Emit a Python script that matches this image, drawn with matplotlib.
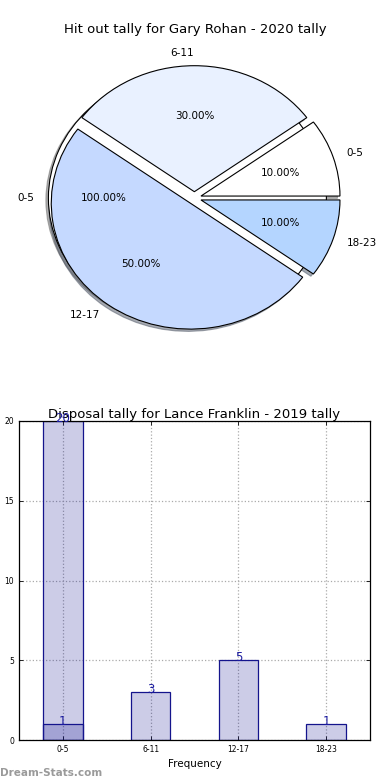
import matplotlib
matplotlib.use("Agg")
import matplotlib.pyplot as plt

# Pie data
pie_title = "Hit out tally for Gary Rohan - 2020 tally"
pie_back_labels = ["0-5"]
pie_back_values = [1]
pie_labels = ["0-5", "6-11", "12-17", "18-23"]
pie_values = [1, 3, 5, 1]
pie_colors = ["#ffffff", "#e9f1ff", "#c5d9ff", "#b4d5ff"]

# Bar data
bar_title = "Disposal tally for Lance Franklin - 2019 tally"
bar_categories = ["0-5", "6-11", "12-17", "18-23"]
bar_values = [1, 3, 5, 1]
extra_categories = ["0-5"]
extra_values = [20]
yticks = [0, 5, 10, 15, 20]

fig = plt.figure(figsize=(3.9, 7.8), dpi=100)

shadow = dict(ox=-0.013, oy=-0.013, shade=0.6)

# ---- Pie ----
ax1 = fig.add_axes([20.6/390, 1-355.5/780, 347.5/390, 315/780])
ax1.pie(pie_back_values, labels=pie_back_labels, colors=["#ffffff"],
        explode=[0.05], shadow=shadow, startangle=0, autopct="%.2f%%",
        wedgeprops=dict(edgecolor="black", linewidth=0.8),
        textprops=dict(fontsize=7.5))
ax1.pie(pie_values, labels=pie_labels, colors=pie_colors,
        explode=[0.05]*len(pie_values), shadow=shadow, startangle=0,
        autopct="%.2f%%", wedgeprops=dict(edgecolor="black", linewidth=0.8),
        textprops=dict(fontsize=7.5))
ax1.set_aspect("auto")
ax1.set_xlim(-1.25, 1.25)
ax1.set_ylim(-1.25, 1.25)
fig.text(0.5, 1-30/780, pie_title, ha="center", va="center", fontsize=9.5)

# ---- Bars ----
ax2 = fig.add_axes([19/390, 1-740/780, 351/390, 319/780])
face = (0, 0, 0.545, 0.2)
edge = "#14148c"
txtc = "#1a1aa0"
x_pos = list(range(len(bar_categories)))
x_extra = [bar_categories.index(c) for c in extra_categories]
ax2.bar(x_extra, extra_values, width=0.45, color=face, edgecolor=edge, linewidth=0.9, zorder=2)
ax2.bar(x_pos, bar_values, width=0.45, color=face, edgecolor=edge, linewidth=0.9, zorder=2)
ax2.set_title(bar_title, fontsize=9.5, pad=2, zorder=1)
for xx, v in zip(x_extra, extra_values):
    ax2.annotate(str(v), (xx, v), xytext=(0, 2), textcoords="offset points",
                 ha="center", va="center", color=txtc, fontsize=8.5, zorder=5,
                 annotation_clip=False)
for xx, v in zip(x_pos, bar_values):
    ax2.annotate(str(v), (xx, v), xytext=(0, 2), textcoords="offset points",
                 ha="center", va="center", color=txtc, fontsize=8.5, zorder=5,
                 annotation_clip=False)
ax2.set_xlim(-0.5, 3.5)
ax2.set_ylim(0, 20)
ax2.set_yticks(yticks)
ax2.set_xticks(x_pos)
ax2.set_xticklabels(bar_categories)
ax2.tick_params(labelsize=5.5, direction="in", top=True, right=True, length=3, width=0.6)
ax2.grid(True, linestyle=":", color="#aaaaaa", linewidth=0.9, zorder=0)
ax2.set_axisbelow(True)
ax2.set_xlabel("Frequency", fontsize=7.5, labelpad=4)
ax2.set_ylabel("Disposal tally", fontsize=7.5, labelpad=6)
for s in ax2.spines.values():
    s.set_linewidth(0.9)

fig.text(0.0, 2/780, "Dream-Stats.com", ha="left", va="bottom", fontsize=7.5,
         fontweight="bold", color="#9a9a9a")

fig.savefig("out.png", dpi=100)
